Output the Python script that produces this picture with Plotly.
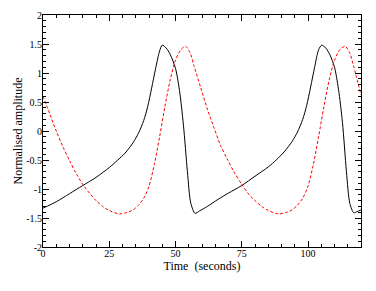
import plotly.graph_objects as go

# Black solid series (x in seconds, normalised amplitude)
black_t = [0, 5, 10, 15, 20, 25, 28, 31, 34, 36, 38, 39.5, 41, 42.5, 44, 45, 46.5, 48, 50, 51.5, 53, 54.5,
           55.8, 57.4, 59, 62, 66, 70, 75, 80, 85, 88, 91, 94, 96, 98, 99.5, 101, 102.5, 104, 105.2, 106.7,
           108.2, 110, 111.5, 113, 114.5, 115.8, 117.3, 118.5, 120]
black_y = [-1.33, -1.22, -1.08, -0.94, -0.80, -0.63, -0.51, -0.38, -0.20, -0.04, 0.18, 0.42, 0.74, 1.08,
           1.38, 1.48, 1.43, 1.32, 1.08, 0.70, 0.10, -0.70, -1.25, -1.42, -1.38, -1.30, -1.18, -1.07, -0.94,
           -0.78, -0.62, -0.50, -0.36, -0.18, -0.02, 0.20, 0.44, 0.76, 1.10, 1.40, 1.48, 1.43, 1.32, 1.10,
           0.72, 0.15, -0.70, -1.25, -1.41, -1.39, -1.36]

# Red dashed series
red_t = [0, 2.5, 5, 7.5, 10, 12.5, 15, 17.5, 20, 22.5, 25, 28.9, 32, 34, 36, 38, 40, 42, 44, 46, 48, 50, 52,
         53.8, 55.5, 57, 59.5, 62, 64.5, 67, 69.5, 72, 75, 78, 80, 82.5, 85, 89, 92, 94, 96, 98, 100, 102, 104,
         106, 108, 110, 112, 114, 115.7, 117.2, 120]
red_y = [0.60, 0.30, 0.00, -0.27, -0.51, -0.73, -0.92, -1.07, -1.20, -1.30, -1.37, -1.43, -1.40, -1.36, -1.28,
         -1.16, -0.95, -0.58, -0.10, 0.42, 0.88, 1.22, 1.40, 1.46, 1.35, 1.12, 0.75, 0.38, 0.06, -0.25, -0.48,
         -0.70, -0.92, -1.11, -1.20, -1.30, -1.37, -1.43, -1.40, -1.36, -1.28, -1.16, -0.95, -0.58, -0.10, 0.42,
         0.88, 1.22, 1.40, 1.46, 1.35, 1.12, 0.62]

x_ticks = [0, 25, 50, 75, 100]
x_tick_labels = ["0", "25", "50", "75", "100"]
y_ticks = [-2, -1.5, -1, -0.5, 0, 0.5, 1, 1.5, 2]
y_tick_labels = ["-2", "-1.5", "-1", "-0.5", "0", "0.5", "1", "1.5", "2"]

font = "Liberation Serif"

fig = go.Figure()
fig.add_trace(go.Scatter(x=black_t, y=black_y, mode="lines",
                         line=dict(color="black", width=1, shape="spline", smoothing=0.8)))
fig.add_trace(go.Scatter(x=red_t, y=red_y, mode="lines",
                         line=dict(color="#ff0000", width=1, dash="3px,2px", shape="spline", smoothing=0.8)))

axis_common = dict(showgrid=False, zeroline=False, showline=True, linecolor="black", linewidth=1,
                   mirror="ticks", ticks="inside", ticklen=6, tickcolor="black", tickwidth=1,
                   automargin=False,
                   tickfont=dict(family=font, size=10, color="black"))

# The page has an 8px body margin, so the figure is sized to fit the window from (8, 8).
fig.update_layout(
    width=368, height=283,
    margin=dict(l=35, r=15, t=7, b=44),
    paper_bgcolor="white", plot_bgcolor="white",
    showlegend=False,
    font=dict(family=font, color="black"),
    xaxis=dict(range=[0, 120], tickmode="array", tickvals=x_ticks, ticktext=x_tick_labels,
               ticklabelstandoff=-3,
               minor=dict(dtick=5, ticks="inside", ticklen=3, tickcolor="black", showgrid=False),
               title=dict(text="Time\u00a0\u00a0(seconds)", font=dict(family=font, size=12, color="black"),
                          standoff=0),
               **axis_common),
    yaxis=dict(range=[-2, 2], tickmode="array", tickvals=y_ticks, ticktext=y_tick_labels,
               ticklabelstandoff=-2,
               minor=dict(dtick=0.1, tick0=0, ticks="inside", ticklen=3, tickcolor="black", showgrid=False),
               title=dict(text="\u00a0\u00a0\u00a0\u00a0Normalised amplitude",
                          font=dict(family=font, size=12, color="black"), standoff=0),
               **axis_common),
)

fig.write_html("out.html")
